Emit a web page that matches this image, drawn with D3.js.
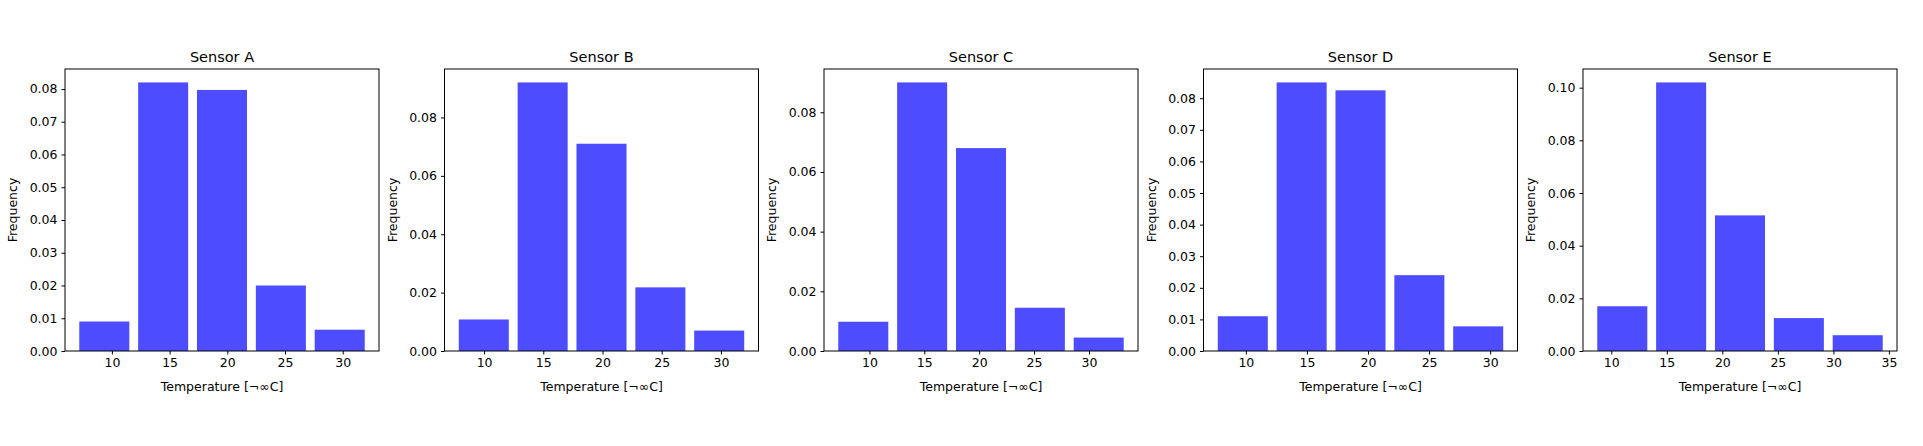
<!DOCTYPE html>
<html><head><meta charset="utf-8">
<script src="https://cdn.jsdelivr.net/npm/d3@7"></script>
<style>body{margin:0;background:#fff}text{font-family:"DejaVu Sans",sans-serif;fill:#000}</style>
</head><body><svg id="chart" width="1923" height="446"></svg>
<script>
// sensor names and histogram bins (lo/hi edges), 5 bins each
var sensors = ['Sensor A', 'Sensor B', 'Sensor C', 'Sensor D', 'Sensor E'];
var binLo = [6.79, 7.49, 6.76, 7.34, 8.34];
var binHi = [32.29, 32.34, 33.57, 31.43, 34.84];
var freqA = [0.009, 0.082, 0.0797, 0.020, 0.0065];
var freqB = [0.0108, 0.092, 0.071, 0.0218, 0.007];
var freqC = [0.0098, 0.090, 0.068, 0.0145, 0.0045];
var freqD = [0.011, 0.085, 0.0825, 0.024, 0.0078];
var freqE = [0.017, 0.102, 0.0515, 0.0125, 0.006];
var freqs = [freqA, freqB, freqC, freqD, freqE];
var yStep = [0.01, 0.02, 0.02, 0.01, 0.02];
var xTicksList = [[10, 15, 20, 25, 30], [10, 15, 20, 25, 30], [10, 15, 20, 25, 30], [10, 15, 20, 25, 30], [10, 15, 20, 25, 30, 35]];

(function() {
var svg = d3.select('#chart');
var w = 314, h = 282, marginTop = 69, rwidth = 0.85;

sensors.forEach(function(name, i) {
    var left = 65 + i * 379.5;
    var g = svg.append('g').attr('transform', 'translate(' + left + ',' + marginTop + ')');
    var vals = freqs[i];
    var bw = (binHi[i] - binLo[i]) / vals.length;
    var pad = bw * (1 - rwidth) / 2;
    var x0 = binLo[i] + pad, x1 = binHi[i] - pad;
    var m = (x1 - x0) * 0.05;
    var x = d3.scaleLinear().domain([x0 - m, x1 + m]).range([0, w]);
    var y = d3.scaleLinear().domain([0, d3.max(vals) * 1.05]).range([h, 0]);

    g.selectAll('rect').data(vals).enter().append('rect')
        .attr('x', function(d, k) { return x(binLo[i] + k * bw + pad); })
        .attr('width', function(d, k) { return x(binLo[i] + (k + 1) * bw - pad) - x(binLo[i] + k * bw + pad); })
        .attr('y', function(d) { return y(d); })
        .attr('height', function(d) { return h - y(d); })
        .attr('fill', '#4d4dff');

    var yt = d3.range(0, y.domain()[1] + 1e-9, yStep[i]);
    var ax = g.append('g').attr('transform', 'translate(0,' + h + ')')
        .call(d3.axisBottom(x).tickValues(xTicksList[i]).tickSize(3.5).tickPadding(4).tickFormat(d3.format('d')));
    var ay = g.append('g')
        .call(d3.axisLeft(y).tickValues(yt).tickSize(3.5).tickPadding(4).tickFormat(d3.format('.2f')));
    [ax, ay].forEach(function(a) {
        a.select('.domain').remove();
        a.selectAll('text').style('font-size', '12.5px').style('font-family', '"DejaVu Sans"');
        a.selectAll('line').attr('stroke', '#000');
    });

    g.append('rect').attr('width', w).attr('height', h)
        .attr('fill', 'none').attr('stroke', '#000').attr('stroke-width', 1);

    g.append('text').attr('x', w / 2).attr('y', -7).attr('text-anchor', 'middle')
        .style('font-size', '14.5px').text(name);
    g.append('text').attr('x', w / 2).attr('y', h + 40).attr('text-anchor', 'middle')
        .style('font-size', '12.5px').text('Temperature [\u00ac\u221eC]');
    g.append('text').attr('transform', 'translate(-48,' + (h / 2) + ') rotate(-90)')
        .attr('text-anchor', 'middle').style('font-size', '12.5px').text('Frequency');
});
})();
</script></body></html>
